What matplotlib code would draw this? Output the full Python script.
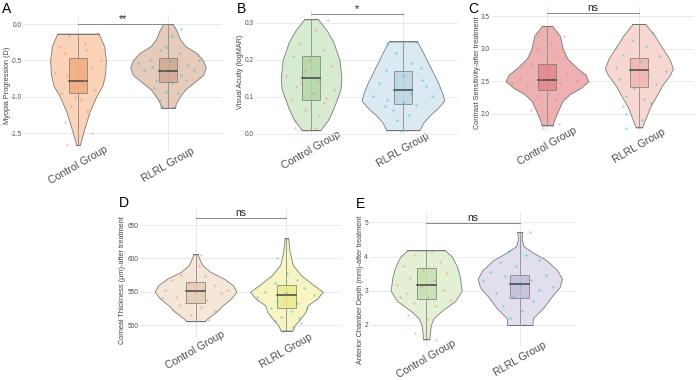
import matplotlib
matplotlib.use("Agg")
import matplotlib.pyplot as plt
from matplotlib.patches import Rectangle

plt.rcParams['font.family'] = ['Liberation Sans', 'DejaVu Sans']

groups = ["Control Group", "RLRL Group"]

# ---------------- Panel A: Myopia Progression ----------------
A_ctrl_vy = [-0.13, -0.3, -0.5, -0.7, -0.85, -1.0, -1.2, -1.4, -1.55, -1.66]
A_ctrl_vw = [0.23, 0.29, 0.31, 0.30, 0.27, 0.20, 0.13, 0.08, 0.045, 0.02]
A_rlrl_vy = [0.0, -0.1, -0.2, -0.3, -0.4, -0.5, -0.6, -0.7, -0.8, -0.9, -1.0, -1.1, -1.15]
A_rlrl_vw = [0.055, 0.10, 0.13, 0.19, 0.32, 0.39, 0.42, 0.39, 0.29, 0.19, 0.13, 0.085, 0.08]
A_ctrl_box = [-0.95, -0.78, -0.47]
A_rlrl_box = [-0.80, -0.64, -0.47]
A_ctrl_px = [0.21, 0.08, -0.14, -0.06, 0.03, 0.16, -0.12, 0.07, -0.04, 0.19, -0.19, 0.03, -0.08, 0.10, -0.15, 0.0, 0.16, -0.12, -0.21, 0.25, -0.25, 0.10, -0.10, 0.05, -0.03]
A_ctrl_py = [-0.12, -0.26, -0.40, -0.47, -0.58, -0.60, -0.72, -0.77, -0.86, -0.90, -0.95, -1.04, -1.13, -1.20, -1.34, -1.41, -1.50, -1.66, -0.31, -0.49, -0.67, -0.35, -0.17, -0.83, -1.00]
A_rlrl_px = [0.15, 0.05, -0.09, 0.13, -0.20, 0.02, 0.22, -0.27, -0.05, 0.15, -0.13, 0.05, 0.29, -0.16, -0.02, 0.11, -0.07, 0.07, -0.18, 0.35, -0.33, -0.02, 0.20, -0.09]
A_rlrl_py = [-0.07, -0.17, -0.35, -0.40, -0.49, -0.51, -0.56, -0.63, -0.65, -0.70, -0.77, -0.81, -0.63, -0.88, -0.93, -0.95, -1.13, -1.14, -0.59, -0.49, -0.54, -0.31, -0.77, -1.04]

# ---------------- Panel B: Visual Acuity ----------------
B_ctrl_vy = [0.31, 0.28, 0.25, 0.20, 0.15, 0.12, 0.10, 0.07, 0.04, 0.02, 0.01]
B_ctrl_vw = [0.075, 0.17, 0.24, 0.31, 0.33, 0.32, 0.29, 0.245, 0.19, 0.13, 0.10]
B_rlrl_vy = [0.25, 0.22, 0.18, 0.14, 0.11, 0.09, 0.07, 0.05, 0.03, 0.01]
B_rlrl_vw = [0.155, 0.22, 0.30, 0.38, 0.43, 0.45, 0.38, 0.29, 0.22, 0.18]
B_ctrl_box = [0.092, 0.15, 0.21]
B_rlrl_box = [0.08, 0.12, 0.17]
B_ctrl_px = [0.18, 0.05, -0.13, 0.13, -0.20, -0.02, 0.22, -0.07, -0.27, 0.09, -0.16, 0.25, 0.02, -0.22, 0.14, -0.07, 0.09, -0.18, 0.05, -0.18, 0.16, -0.11]
B_ctrl_py = [0.307, 0.28, 0.246, 0.228, 0.21, 0.20, 0.183, 0.17, 0.156, 0.147, 0.129, 0.12, 0.11, 0.093, 0.084, 0.066, 0.052, 0.034, 0.016, 0.016, 0.097, 0.138]
B_rlrl_px = [-0.17, 0.14, -0.08, 0.09, -0.18, 0.20, 0.0, -0.26, 0.25, -0.09, 0.09, -0.33, 0.32, -0.17, 0.0, 0.14, -0.11, 0.07, -0.06, -0.02, -0.20, 0.21]
B_rlrl_py = [0.246, 0.248, 0.219, 0.192, 0.174, 0.178, 0.156, 0.138, 0.129, 0.12, 0.111, 0.102, 0.102, 0.093, 0.084, 0.079, 0.066, 0.052, 0.039, 0.007, 0.075, 0.147]

# ---------------- Panel C: Contrast Sensitivity ----------------
C_ctrl_vy = [3.35, 3.2, 3.0, 2.85, 2.7, 2.6, 2.5, 2.4, 2.3, 2.2, 2.05, 1.9, 1.82]
C_ctrl_vw = [0.055, 0.14, 0.17, 0.22, 0.33, 0.42, 0.45, 0.37, 0.245, 0.17, 0.12, 0.075, 0.06]
C_rlrl_vy = [3.38, 3.2, 3.0, 2.85, 2.7, 2.6, 2.45, 2.3, 2.1, 1.9, 1.79]
C_rlrl_vw = [0.07, 0.17, 0.26, 0.33, 0.37, 0.34, 0.26, 0.20, 0.12, 0.065, 0.035]
C_ctrl_box = [2.37, 2.52, 2.76]
C_rlrl_box = [2.41, 2.67, 2.86]
C_ctrl_px = [0.18, 0.04, -0.11, 0.11, -0.16, 0.0, 0.22, -0.29, -0.07, 0.14, 0.33, -0.22, 0.04, -0.11, 0.09, -0.18, 0.0, 0.13, -0.04, -0.38]
C_ctrl_py = [3.19, 3.09, 2.99, 2.88, 2.76, 2.71, 2.63, 2.55, 2.53, 2.47, 2.50, 2.42, 2.37, 2.27, 2.22, 2.06, 1.96, 1.85, 1.78, 2.47]
C_rlrl_px = [0.15, -0.07, 0.08, -0.17, 0.22, 0.01, -0.25, -0.10, 0.30, 0.10, -0.21, 0.19, -0.05, -0.14, 0.06, -0.17, 0.13, -0.14, -0.14, 0.03]
C_rlrl_py = [3.24, 3.14, 3.04, 2.91, 2.88, 2.81, 2.71, 2.65, 2.65, 2.58, 2.53, 2.45, 2.40, 2.27, 2.22, 2.12, 2.17, 1.99, 1.78, 1.91]

# ---------------- Panel D: Corneal Thickness ----------------
D_ctrl_vy = [606, 600, 590, 580, 570, 560, 550, 540, 530, 520, 510, 506]
D_ctrl_vw = [0.025, 0.04, 0.075, 0.16, 0.31, 0.41, 0.45, 0.39, 0.30, 0.225, 0.13, 0.10]
D_rlrl_vy = [630, 610, 590, 575, 560, 550, 540, 530, 520, 510, 500, 492]
D_rlrl_vw = [0.02, 0.035, 0.07, 0.16, 0.30, 0.40, 0.34, 0.235, 0.21, 0.155, 0.09, 0.065]
D_ctrl_box = [534, 552, 564]
D_rlrl_box = [526, 546, 560]
D_ctrl_px = [0.06, 0.04, -0.16, 0.10, -0.26, -0.07, 0.21, -0.34, 0.01, 0.28, -0.21, 0.13, -0.12, 0.06, -0.25, 0.21, -0.05, 0.15, -0.17, 0.35, -0.37]
D_ctrl_py = [605, 588, 575, 573, 568, 563, 560, 553, 550, 548, 543, 538, 533, 528, 523, 521, 516, 508, 531, 553, 541]
D_rlrl_px = [-0.10, 0.01, 0.12, -0.13, 0.19, -0.24, -0.01, 0.30, -0.32, -0.10, 0.12, -0.17, 0.05, 0.23, -0.06, 0.14, -0.13, 0.07, 0.16, -0.04]
D_rlrl_py = [600, 578, 568, 563, 555, 550, 548, 545, 543, 536, 533, 526, 521, 526, 513, 511, 506, 498, 503, 491]

# ---------------- Panel E: Anterior Chamber Depth ----------------
E_ctrl_vy = [4.18, 4.0, 3.7, 3.4, 3.0, 2.7, 2.4, 2.2, 2.0, 1.8, 1.58]
E_ctrl_vw = [0.20, 0.275, 0.33, 0.36, 0.38, 0.31, 0.16, 0.08, 0.05, 0.04, 0.035]
E_rlrl_vy = [4.72, 4.5, 4.3, 4.1, 3.9, 3.6, 3.35, 3.1, 2.8, 2.5, 2.2, 2.0]
E_rlrl_vw = [0.027, 0.02, 0.04, 0.15, 0.28, 0.40, 0.45, 0.425, 0.33, 0.25, 0.14, 0.135]
E_ctrl_box = [2.75, 3.17, 3.65]
E_rlrl_box = [2.80, 3.20, 3.45]
E_ctrl_px = [0.06, -0.12, 0.15, -0.24, -0.03, 0.22, -0.17, 0.08, -0.31, -0.06, 0.18, -0.20, 0.02, 0.26, -0.13, 0.10, -0.19, 0.01, -0.12, 0.10, -0.28]
E_ctrl_py = [4.15, 4.05, 3.85, 3.71, 3.61, 3.51, 3.37, 3.32, 3.17, 3.13, 3.03, 2.93, 2.83, 2.74, 2.64, 2.54, 2.30, 2.16, 1.77, 1.57, 2.83]
E_rlrl_px = [0.11, -0.12, 0.07, -0.21, 0.21, -0.04, -0.32, 0.28, -0.16, 0.12, -0.39, 0.0, 0.21, -0.25, -0.07, 0.14, -0.18, 0.02, -0.11, 0.04, 0.35]
E_rlrl_py = [4.73, 4.15, 4.05, 3.85, 3.90, 3.71, 3.56, 3.47, 3.42, 3.32, 3.27, 3.17, 3.03, 2.93, 2.83, 2.69, 2.54, 2.40, 2.20, 2.00, 3.12]

panels = [
    dict(letter="A", ylabel="Myopia Progression (D)",
         ctrl=(A_ctrl_vy, A_ctrl_vw, A_ctrl_box, A_ctrl_px, A_ctrl_py),
         rlrl=(A_rlrl_vy, A_rlrl_vw, A_rlrl_box, A_rlrl_px, A_rlrl_py),
         colors=("#FACFB2", "#F2AC80", "#E4C6B4", "#D2A78F"),
         yticks=[0.0, -0.5, -1.0, -1.5], fmt="{:.1f}", ylim=(-1.745, 0.12),
         sig=("**", 0.0), px=(24, 222, 15.4, 151), letter_xy=(2, 13),
         lab_xy=(7, 85)),
    dict(letter="B", ylabel="Visual Acuity (logMAR)",
         ctrl=(B_ctrl_vy, B_ctrl_vw, B_ctrl_box, B_ctrl_px, B_ctrl_py),
         rlrl=(B_rlrl_vy, B_rlrl_vw, B_rlrl_box, B_rlrl_px, B_rlrl_py),
         colors=("#D3E9CB", "#B4D8A9", "#D8E7F1", "#BDD6E6"),
         yticks=[0.0, 0.1, 0.2, 0.3], fmt="{:.1f}", ylim=(-0.006, 0.335),
         sig=("*", 0.324), px=(256, 458, 10, 136.2), letter_xy=(237, 13),
         lab_xy=(241, 72)),
    dict(letter="C", ylabel="Contrast Sensitivity-after treatment",
         ctrl=(C_ctrl_vy, C_ctrl_vw, C_ctrl_box, C_ctrl_px, C_ctrl_py),
         rlrl=(C_rlrl_vy, C_rlrl_vw, C_rlrl_box, C_rlrl_px, C_rlrl_py),
         colors=("#EDA9A9", "#E38A8A", "#F8D2CE", "#F0B6B0"),
         yticks=[2.0, 2.5, 3.0, 3.5], fmt="{:.1f}", ylim=(1.72, 3.64),
         sig=("ns", 3.555), px=(492, 694, 7, 132), letter_xy=(468, 13),
         lab_xy=(477, 73)),
    dict(letter="D", ylabel="Corneal Thickness (\u03bcm)-after treatment",
         ctrl=(D_ctrl_vy, D_ctrl_vw, D_ctrl_box, D_ctrl_px, D_ctrl_py),
         rlrl=(D_rlrl_vy, D_rlrl_vw, D_rlrl_box, D_rlrl_px, D_rlrl_py),
         colors=("#F4E5D4", "#E3CDB2", "#F7F6BC", "#ECEA8E"),
         yticks=[500, 550, 600, 650], fmt="{:.0f}", ylim=(483, 674),
         sig=("ns", 660), px=(141, 341, 209, 336.6), letter_xy=(119, 207),
         lab_xy=(122, 280)),
    dict(letter="E", ylabel="Anterior Chamber Depth (mm)-after treatment",
         ctrl=(E_ctrl_vy, E_ctrl_vw, E_ctrl_box, E_ctrl_px, E_ctrl_py),
         rlrl=(E_rlrl_vy, E_rlrl_vw, E_rlrl_box, E_rlrl_px, E_rlrl_py),
         colors=("#E1EFD0", "#C7E0B0", "#DEDCEC", "#C3BFD9"),
         yticks=[2, 3, 4, 5], fmt="{:.0f}", ylim=(1.4, 5.3),
         sig=("ns", 4.99), px=(370, 576, 212, 345.5), letter_xy=(356, 208),
         lab_xy=(360, 290)),
]

W, H = 697, 380
fig = plt.figure(figsize=(W / 100, H / 100), dpi=100)
fig.patch.set_facecolor("white")

grid_c = "#E6E6E6"
edge_c = "#6E6E6E"
pt_colors = ("#F8766D", "#00BFC4")

for p in panels:
    x0, x1, top, bot = p["px"]
    ax = fig.add_axes([x0 / W, 1 - bot / H, (x1 - x0) / W, (bot - top) / H])
    ax.set_xlim(0.4, 2.6)
    ax.set_ylim(*p["ylim"])
    for s in ax.spines.values():
        s.set_visible(False)
    ax.set_yticks(p["yticks"])
    ax.set_yticklabels([p["fmt"].format(v) for v in p["yticks"]])
    ax.set_xticks([1, 2])
    ax.set_xticklabels(groups, rotation=30, ha="center", va="center",
                       fontsize=7.6, color="#4D4D4D")
    ax.tick_params(axis="x", length=0, pad=10)
    ax.tick_params(axis="y", length=0, pad=1.5, labelsize=4.7, labelcolor="#4D4D4D")
    ax.grid(True, color=grid_c, lw=0.6)
    ax.set_axisbelow(True)
    ax.set_ylabel(p["ylabel"], fontsize=5.3, color="#444444")
    lx, ly = p["lab_xy"]
    ax.yaxis.set_label_coords((lx - x0) / (x1 - x0), (bot - ly) / (bot - top))
    ax.yaxis.label.set_verticalalignment("center")

    for i, key in enumerate(["ctrl", "rlrl"]):
        vy, vw, box, pxs, pys = p[key]
        pos = i + 1
        vfill = p["colors"][2 * i]
        bfill = p["colors"][2 * i + 1]
        ax.fill_betweenx(vy, [pos - w for w in vw], [pos + w for w in vw],
                         facecolor=vfill, edgecolor=edge_c, lw=0.6, alpha=0.9, zorder=2)
        ax.plot([pos - vw[0], pos + vw[0]], [vy[0], vy[0]], color=edge_c, lw=0.6, zorder=2)
        ax.plot([pos - vw[-1], pos + vw[-1]], [vy[-1], vy[-1]], color=edge_c, lw=0.6, zorder=2)
        ax.plot([pos, pos], [min(vy), max(vy)], color="#8A8A8A", lw=0.6, zorder=3)
        q1, med, q3 = box
        ax.add_patch(Rectangle((pos - 0.1, q1), 0.2, q3 - q1, facecolor=bfill,
                               edgecolor="#7A7A7A", lw=0.6, alpha=0.85, zorder=4))
        ax.plot([pos - 0.1, pos + 0.1], [med, med], color="#444444", lw=1.1, zorder=5)
        ax.scatter([pos + dx for dx in pxs], pys, s=3, color=pt_colors[i],
                   alpha=0.45, lw=0, zorder=6)

    label, yb = p["sig"]
    ax.plot([1, 2], [yb, yb], color="#888888", lw=0.7, zorder=7, clip_on=False)
    ax.text(1.5, yb, label, ha="center", va="bottom", fontsize=7.5,
            color="#222222", zorder=8, clip_on=False)

    lx, ly = p["letter_xy"]
    fig.text(lx / W, 1 - ly / H, p["letter"], fontsize=10, color="black",
             ha="left", va="baseline")

fig.savefig("out.png", dpi=100, facecolor="white")
